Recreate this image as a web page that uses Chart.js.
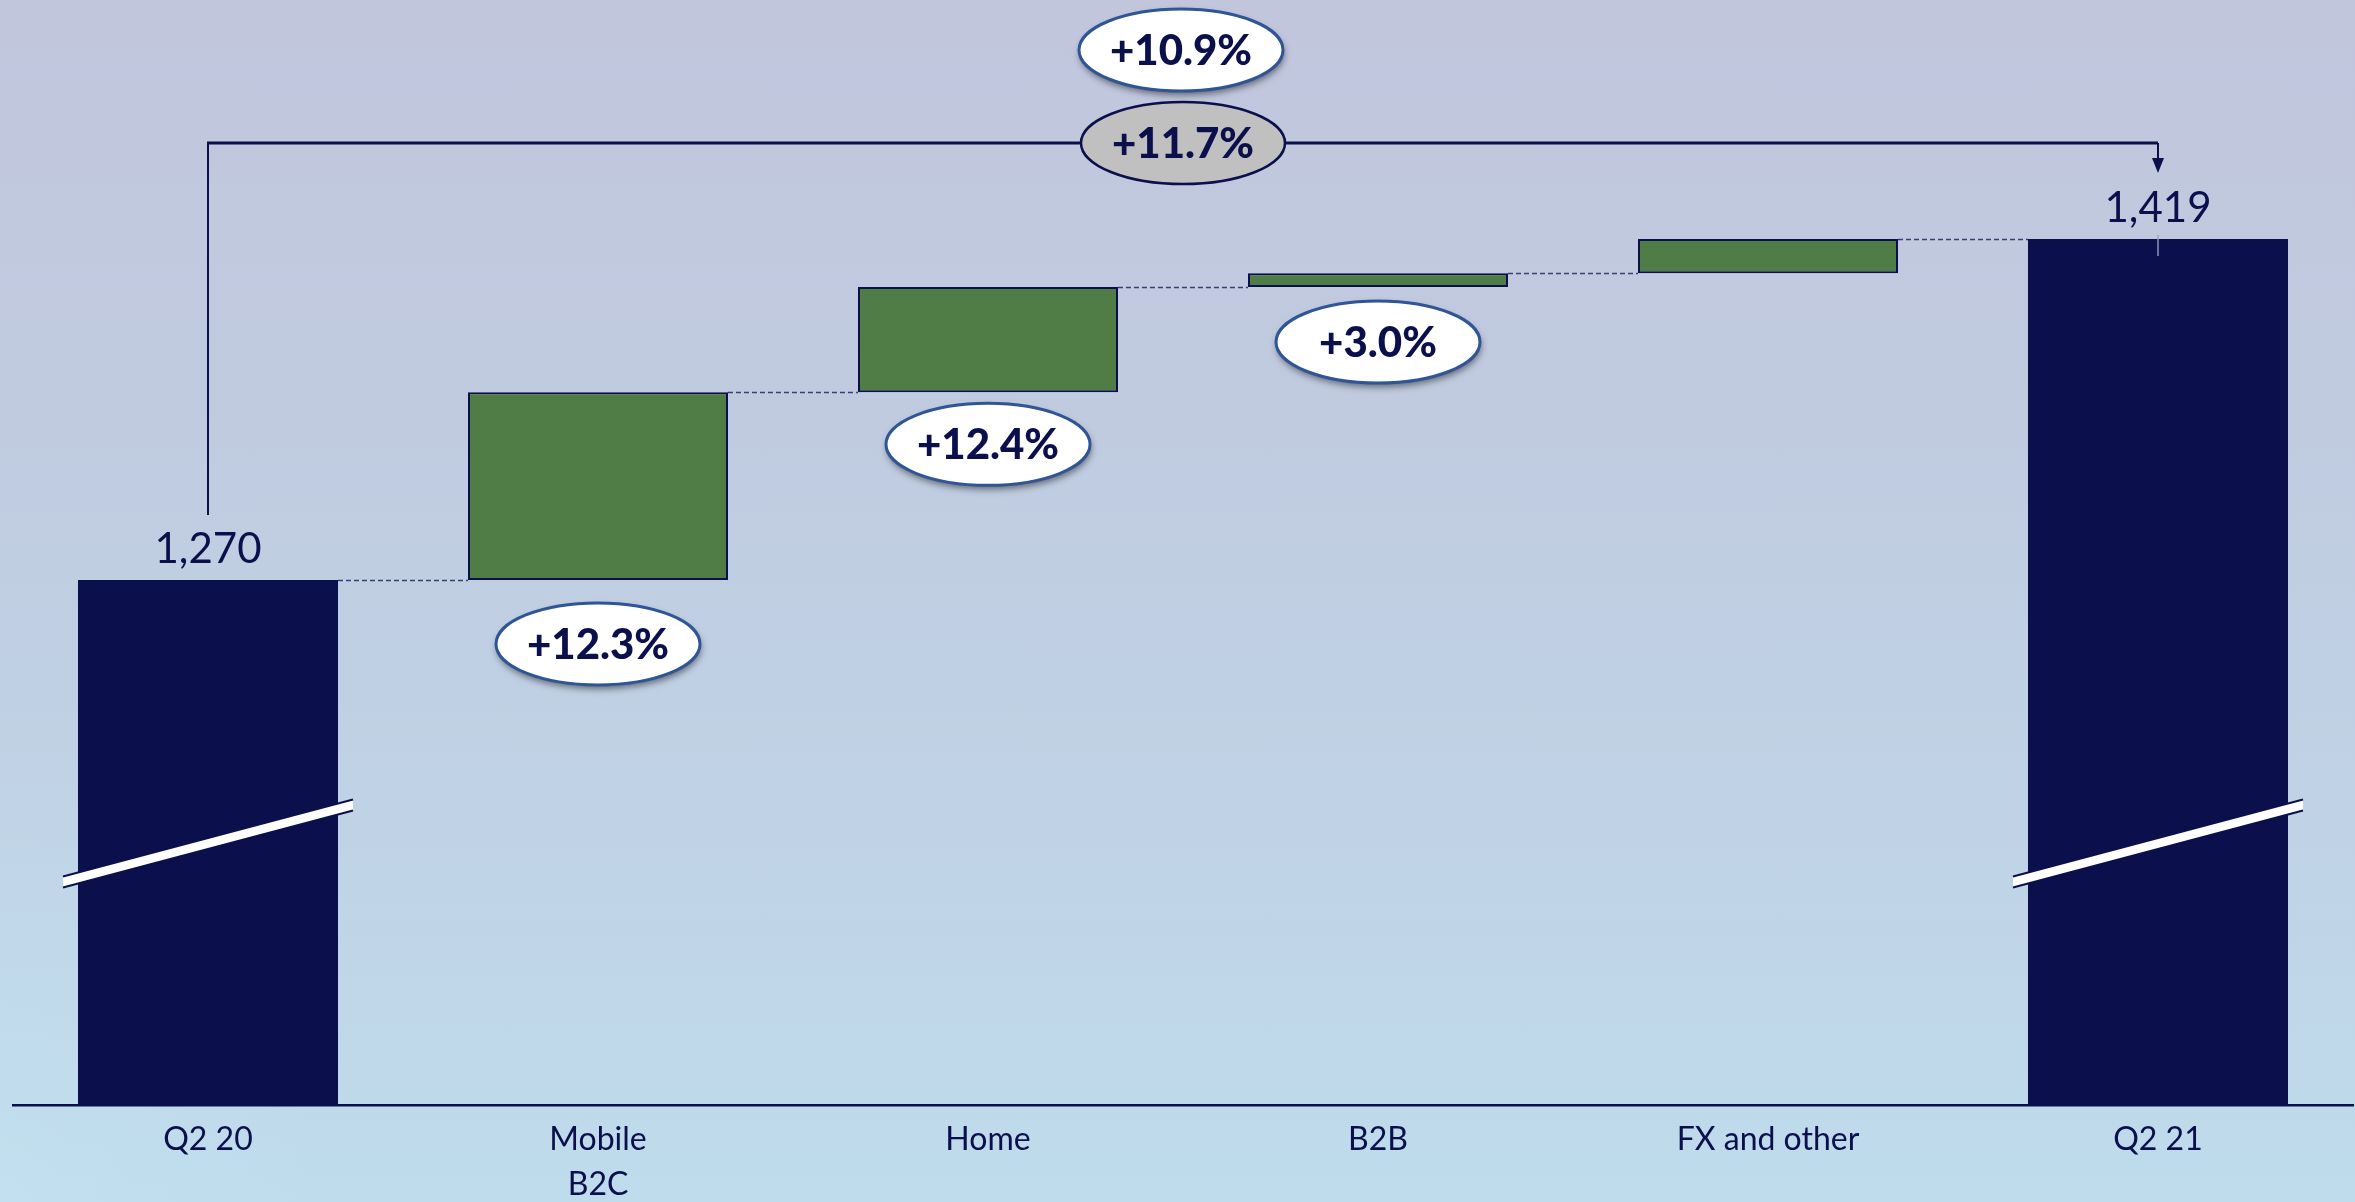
<!DOCTYPE html>
<html>
<head>
<meta charset="utf-8">
<script src="https://cdn.jsdelivr.net/npm/chart.js@4.4.1/dist/chart.umd.min.js"></script>
<style>
  html, body { margin: 0; padding: 0; }
  body {
    width: 2355px;
    height: 1202px;
    overflow: hidden;
    background:
      radial-gradient(ellipse 420px 600px at 0% 100%, rgba(198, 228, 242, 0.45), rgba(198, 228, 242, 0) 75%),
      linear-gradient(to bottom, #c1c6dd 0%, #c0cbe0 35%, #c0d3e6 70%, #bedcec 100%);
  }
  canvas { display: block; }
</style>
</head>
<body>
<canvas id="bridge" width="2355" height="1202"></canvas>
<script>
const categories = ['Q2 20', ['Mobile', 'B2C'], 'Home', 'B2B', 'FX and other', 'Q2 21'];
const openingRevenue = 1270;
const closingRevenue = 1419;
const stepChanges = [82, 46, 6, 15];
const stepGrowth = ['+12.3%', '+12.4%', '+3.0%', null];
const reportedGrowth = '+10.9%';
const organicGrowth = '+11.7%';

const NAVY = '#0b104c';
const GREEN = '#507d46';
const FONT = 'Lato, "Open Sans", sans-serif';

// floating bars: totals start at zero (axis is broken), steps float on the running total
const bars = [[0, openingRevenue]];
let running = openingRevenue;
stepChanges.forEach(d => {
    bars.push([running, running + d]);
    running += d;
});
bars.push([0, closingRevenue]);

const isTotal = i => i === 0 || i === bars.length - 1;

function pill(ctx, x, y, text, fill, stroke, lw, shadow) {
    ctx.save();
    ctx.beginPath();
    ctx.ellipse(x, y, 102, 41, 0, 0, Math.PI * 2);
    if (shadow) {
        ctx.shadowColor = 'rgba(0, 0, 0, 0.5)';
        ctx.shadowBlur = 7;
        ctx.shadowOffsetX = 1;
        ctx.shadowOffsetY = 4;
    }
    ctx.fillStyle = fill;
    ctx.fill();
    ctx.shadowColor = 'transparent';
    ctx.lineWidth = lw;
    ctx.strokeStyle = stroke;
    ctx.stroke();
    ctx.fillStyle = NAVY;
    ctx.font = '900 42px ' + FONT;
    ctx.textAlign = 'center';
    ctx.textBaseline = 'middle';
    ctx.fillText(text, x, y + 1);
    ctx.restore();
}

const bridgeDecor = {
    id: 'bridgeDecor',
    afterDatasetsDraw(chart) {
        const ctx = chart.ctx;
        const y = chart.scales.y;
        const els = chart.getDatasetMeta(0).data;
        const bottom = chart.chartArea.bottom;

        // dashed connectors at the running total
        ctx.save();
        ctx.setLineDash([5, 3]);
        ctx.lineWidth = 1.5;
        ctx.strokeStyle = 'rgba(11, 16, 76, 0.75)';
        for (let i = 0; i < els.length - 1; i++) {
            const py = Math.round(y.getPixelForValue(bars[i][1])) + 0.5;
            ctx.beginPath();
            ctx.moveTo(els[i].x + els[i].width / 2, py);
            ctx.lineTo(els[i + 1].x - els[i + 1].width / 2, py);
            ctx.stroke();
        }
        ctx.restore();

        // axis break marks across the total bars
        [0, els.length - 1].forEach(i => {
            const el = els[i];
            const l = el.x - el.width / 2 - 15;
            const r = el.x + el.width / 2 + 15;
            const yl = bottom - 223, yr = bottom - 300, h = 11;
            ctx.save();
            ctx.beginPath();
            ctx.moveTo(l, yl - h / 2);
            ctx.lineTo(r, yr - h / 2);
            ctx.lineTo(r, yr + h / 2);
            ctx.lineTo(l, yl + h / 2);
            ctx.closePath();
            ctx.fillStyle = '#ffffff';
            ctx.fill();
            ctx.strokeStyle = NAVY;
            ctx.lineWidth = 2;
            ctx.beginPath();
            ctx.moveTo(l, yl - h / 2);
            ctx.lineTo(r, yr - h / 2);
            ctx.moveTo(l, yl + h / 2);
            ctx.lineTo(r, yr + h / 2);
            ctx.stroke();
            ctx.restore();
        });

        // total value labels
        ctx.save();
        ctx.fillStyle = NAVY;
        ctx.font = '42px ' + FONT;
        ctx.textAlign = 'center';
        ctx.textBaseline = 'alphabetic';
        [0, els.length - 1].forEach(i => {
            ctx.fillText(bars[i][1].toLocaleString('en-US'), els[i].x, els[i].y - 17);
        });
        ctx.restore();

        // small mark through the closing label
        const last = els[els.length - 1];
        ctx.save();
        ctx.strokeStyle = 'rgba(150, 160, 195, 0.9)';
        ctx.lineWidth = 1.5;
        ctx.beginPath();
        ctx.moveTo(last.x, last.y - 4);
        ctx.lineTo(last.x, last.y + 17);
        ctx.stroke();
        ctx.restore();

        // growth pills under the step bars
        const gaps = [64, 52, 55];
        stepGrowth.forEach((txt, k) => {
            if (!txt) return;
            const el = els[k + 1];
            pill(ctx, el.x, el.base + gaps[k], txt, '#ffffff', '#2f5597', 3, true);
        });

        // bracket from opening to closing total
        const x0 = els[0].x, x1 = last.x;
        const by = 143;
        ctx.save();
        ctx.strokeStyle = NAVY;
        ctx.lineWidth = 2;
        ctx.beginPath();
        ctx.moveTo(x0, els[0].y - 65);
        ctx.lineTo(x0, by);
        ctx.stroke();
        ctx.lineWidth = 3;
        ctx.beginPath();
        ctx.moveTo(x0 - 1, by);
        ctx.lineTo(x1, by);
        ctx.stroke();
        ctx.lineWidth = 2;
        ctx.beginPath();
        ctx.moveTo(x1, by);
        ctx.lineTo(x1, 160);
        ctx.stroke();
        ctx.fillStyle = NAVY;
        ctx.beginPath();
        ctx.moveTo(x1 - 6, 158);
        ctx.lineTo(x1 + 6, 158);
        ctx.lineTo(x1, 173);
        ctx.closePath();
        ctx.fill();
        ctx.restore();

        const mx = (x0 + x1) / 2;
        pill(ctx, mx, by, organicGrowth, '#c0c0c0', NAVY, 2.5, false);
        pill(ctx, mx - 2, 50, reportedGrowth, '#ffffff', '#2f5597', 3, true);
    }
};

new Chart(document.getElementById('bridge'), {
    type: 'bar',
    data: {
        labels: categories,
        datasets: [{
            data: bars,
            backgroundColor: bars.map((b, i) => isTotal(i) ? NAVY : GREEN),
            borderColor: NAVY,
            borderWidth: bars.map((b, i) => isTotal(i) ? 0 : 2),
            borderSkipped: false,
            categoryPercentage: 1,
            barPercentage: 0.6667,
            clip: 0
        }]
    },
    options: {
        responsive: false,
        animation: false,
        layout: { padding: { left: 13, right: 2, top: 0, bottom: 0 } },
        plugins: {
            legend: { display: false },
            tooltip: { enabled: false }
        },
        scales: {
            x: {
                z: 1,
                grid: { display: false, drawTicks: false },
                border: { display: true, color: NAVY, width: 2.5 },
                ticks: {
                    color: NAVY,
                    padding: 12,
                    maxRotation: 0,
                    font: { family: FONT, size: 32, lineHeight: 1.42 }
                },
                afterFit: axis => { axis.height = 97; }
            },
            y: {
                display: false,
                min: 1040.6,
                max: 1523.4
            }
        }
    },
    plugins: [bridgeDecor]
});
</script>
</body>
</html>
